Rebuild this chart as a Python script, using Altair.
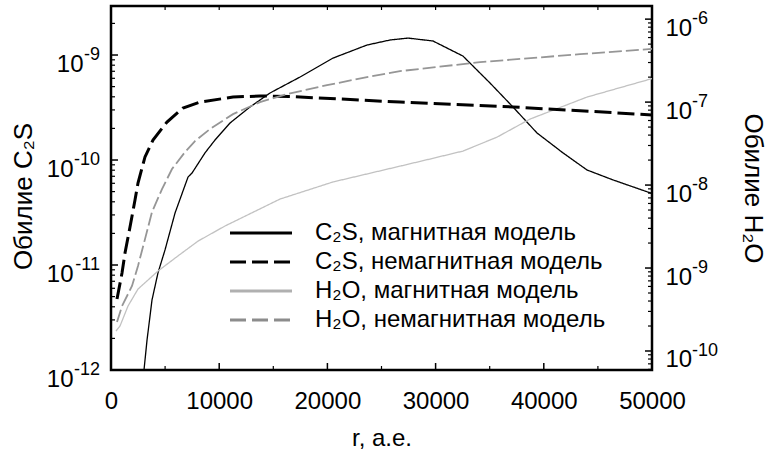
import altair as alt
import pandas as pd

FONT = "Liberation Sans"

# ---------------- data ----------------
# C2S, magnetic model (left axis)
r_c2s_mag = [3050, 3330, 3790, 4340, 4990, 5920, 7120, 7490, 8690, 9610, 11000,
             12850, 14700, 17470, 20520, 23660, 25790, 27450, 29760, 32530,
             35030, 37150, 39370, 41770, 43990, 46400, 50000]
c2s_mag = [1.0e-12, 1.93e-12, 4.65e-12, 8.4e-12, 1.39e-11, 3.13e-11, 6.89e-11,
           7.52e-11, 1.17e-10, 1.55e-10, 2.25e-10, 3.20e-10, 4.35e-10, 6.17e-10,
           9.35e-10, 1.245e-9, 1.39e-9, 1.45e-9, 1.36e-9, 9.77e-10, 5.41e-10,
           3.20e-10, 1.81e-10, 1.17e-10, 8.04e-11, 6.46e-11, 4.8e-11]

# C2S, non-magnetic model (left axis)
r_c2s_nonmag = [555, 1017, 1294, 1756, 2218, 2495, 3142, 3882, 5175, 6654, 8225,
                11275, 13771, 16540, 26710, 37150, 50000]
c2s_nonmag = [4.74e-12, 8.4e-12, 1.30e-11, 2.30e-11, 4.16e-11, 6.04e-11, 1.07e-10,
              1.55e-10, 2.30e-10, 3.13e-10, 3.56e-10, 3.98e-10, 4.07e-10, 4.03e-10,
              3.56e-10, 3.20e-10, 2.69e-10]

# H2O, magnetic model (right axis)
r_h2o_mag = [462, 832, 1571, 2495, 4344, 6192, 8040, 10536, 15619, 20517, 26710,
             29482, 32532, 35674, 38724, 43992, 50000]
h2o_mag = [1.74e-10, 2.0e-10, 3.48e-10, 5.58e-10, 9.2e-10, 1.40e-9, 2.11e-9,
           3.21e-9, 6.78e-9, 1.09e-8, 1.69e-8, 2.06e-8, 2.57e-8, 3.78e-8, 6.24e-8,
           1.15e-7, 1.92e-7]

# H2O, non-magnetic model (right axis)
r_h2o_nonmag = [555, 1017, 1941, 2495, 3142, 3789, 4713, 5637, 6839, 7763, 9150,
                11275, 13771, 16266, 19963, 23660, 26710, 34103, 43345, 50000]
h2o_nonmag = [2.23e-10, 3.48e-10, 6.07e-10, 1.06e-9, 2.23e-9, 4.73e-9, 8.95e-9,
              1.56e-8, 2.50e-8, 3.39e-8, 4.73e-8, 7.16e-8, 1.0e-7, 1.25e-7, 1.60e-7,
              2.00e-7, 2.36e-7, 3.03e-7, 3.78e-7, 4.38e-7]

series = ["C₂S, магнитная модель", "C₂S, немагнитная модель",
          "H₂O, магнитная модель", "H₂O, немагнитная модель"]
colors = ["#000000", "#000000", "#c2c2c2", "#969696"]
legend_colors = ["#000000", "#000000", "#b0b0b0", "#8c8c8c"]
dashes = [[1, 0], [17, 6], [1, 0], [13, 4]]
legend_dashes = [[1, 0], [16, 6], [1, 0], [16, 6]]
widths = [1.3, 3.0, 1.3, 1.8]

x_ticks = [0, 10000, 20000, 30000, 40000, 50000]
x_minor = [5000, 15000, 25000, 35000, 45000]
left_ticks = [1e-12, 1e-11, 1e-10, 1e-9]
left_exps = ["-12", "-11", "-10", "-9"]
right_ticks = [1e-10, 1e-9, 1e-8, 1e-7, 1e-6]
right_exps = ["-10", "-9", "-8", "-7", "-6"]

left_domain = [1e-12, 2.93e-9]
right_domain = [5.9e-11, 1.44e-6]

W, H = 541, 364


def minor_ticks(lo, hi):
    out = []
    for e in range(-13, -4):
        for k in range(2, 10):
            v = k * 10.0 ** e
            if lo < v < hi:
                out.append(v)
    return out


x_scale = alt.Scale(domain=[0, 50000], nice=False, zero=False)
left_scale = alt.Scale(type="log", domain=left_domain, nice=False)
right_scale = alt.Scale(type="log", domain=right_domain, nice=False)

x_axis = alt.Axis(values=x_ticks, format="d", ticks=False, domain=False,
                  grid=False, labelFont=FONT, labelFontSize=24,
                  labelColor="black", labelPadding=19, labelFlush=False,
                  labelOverlap=False, title="r, a.e.", titleFont=FONT,
                  titleFontSize=24, titleFontWeight="normal",
                  titleColor="black", titlePadding=13)
x_enc = alt.X("r:Q", scale=x_scale, axis=x_axis)

axis_common = dict(ticks=False, domain=False, grid=False, labelFont=FONT,
                   labelFontSize=24, labelColor="black", labelOffset=9,
                   labelOverlap=False, labelFlush=False, labelExpr="'10'",
                   titleFont=FONT, titleFontSize=26, titleFontWeight="normal",
                   titleColor="black")

left_axis = alt.Axis(orient="left", values=left_ticks, labelAlign="right",
                     labelPadding={"condition": {"test": "datum.value > 5e-10", "value": 28},
                                   "value": 38},
                     title="Обилие C₂S", titlePadding=10, titleY=190, **axis_common)
right_axis = alt.Axis(orient="right", values=right_ticks, labelAlign="left",
                      labelPadding=13, title="Обилие H₂O", titlePadding=48,
                      **axis_common)


def line_layer(rs, vals, i, scale, axis):
    return alt.Chart(pd.DataFrame({"r": rs, "value": vals})).mark_line(
        clip=True, color=colors[i], strokeDash=dashes[i], strokeWidth=widths[i]
    ).encode(x=x_enc, y=alt.Y("value:Q", scale=scale, axis=axis))


c2s_mag_line = line_layer(r_c2s_mag, c2s_mag, 0, left_scale, left_axis)
c2s_nonmag_line = line_layer(r_c2s_nonmag, c2s_nonmag, 1, left_scale, None)
h2o_mag_line = line_layer(r_h2o_mag, h2o_mag, 2, right_scale, right_axis)
h2o_nonmag_line = line_layer(r_h2o_nonmag, h2o_nonmag, 3, right_scale, None)

# legend carrier: no rows of its own, only the key with 3 px samples
legend = alt.Legend(orient="none", legendX=138, legendY=215, title=None, padding=0,
                    symbolType="M-3,0H3", symbolSize=427, symbolStrokeWidth=3,
                    labelFont=FONT, labelFontSize=24, labelColor="black",
                    labelOffset=42, rowPadding=5, labelLimit=0)
legend_layer = alt.Chart(pd.DataFrame({"r": [], "value": [], "series": []})).mark_line(
    strokeWidth=3
).encode(
    x=x_enc,
    y=alt.Y("value:Q", scale=left_scale, axis=None),
    color=alt.Color("series:N", scale=alt.Scale(domain=series, range=legend_colors),
                    legend=legend),
    strokeDash=alt.StrokeDash("series:N",
                              scale=alt.Scale(domain=series, range=legend_dashes),
                              legend=legend),
)

# exponents of the tick labels (superscripts)
left_exp_text = alt.Chart(pd.DataFrame({"v": left_ticks, "e": left_exps})).mark_text(
    align="right", baseline="middle", font=FONT, fontSize=18, color="black"
).encode(y=alt.Y("v:Q", scale=left_scale, axis=None), x=alt.value(-11), text="e:N")

right_exp_text = alt.Chart(pd.DataFrame({"v": right_ticks, "e": right_exps})).mark_text(
    align="left", baseline="middle", font=FONT, fontSize=18, color="black"
).encode(y=alt.Y("v:Q", scale=right_scale, axis=None), x=alt.value(W + 40), text="e:N")


def hticks(vals, scale, x0, x1, sw):
    return alt.Chart(pd.DataFrame({"v": vals})).mark_rule(color="black", strokeWidth=sw).encode(
        y=alt.Y("v:Q", scale=scale, axis=None),
        x=alt.value(x0), x2=alt.value(x1))


def vticks(vals, y0, y1, sw):
    return alt.Chart(pd.DataFrame({"r": vals})).mark_rule(color="black", strokeWidth=sw).encode(
        x=x_enc, y=alt.value(y0), y2=alt.value(y1))


left_major_t = hticks(left_ticks, left_scale, 0, 7, 1.5)
left_minor_t = hticks(minor_ticks(*left_domain), left_scale, 0, 4, 1.2)
right_major_t = hticks(right_ticks, right_scale, W, W - 7, 1.5)
right_minor_t = hticks(minor_ticks(*right_domain), right_scale, W, W - 4, 1.2)
bottom_major_t = vticks(x_ticks, H, H - 7, 1.5)
bottom_minor_t = vticks(x_minor, H, H - 4, 1.2)
top_t = vticks(x_ticks + x_minor, 0, 4, 1.2)

chart = alt.layer(
    c2s_mag_line, h2o_mag_line, c2s_nonmag_line, h2o_nonmag_line, legend_layer,
    left_exp_text, right_exp_text,
    left_major_t, left_minor_t, right_major_t, right_minor_t,
    bottom_major_t, bottom_minor_t, top_t,
).resolve_scale(
    y="independent", color="independent", strokeDash="independent"
).properties(
    width=W, height=H,
    autosize=alt.AutoSizeParams(type="none"),
    padding={"left": 111, "top": 6, "right": 117, "bottom": 83},
    background="white",
).configure_view(stroke="black", strokeWidth=2.5)

chart.save("out.html", embed_options={"renderer": "svg", "actions": False})
